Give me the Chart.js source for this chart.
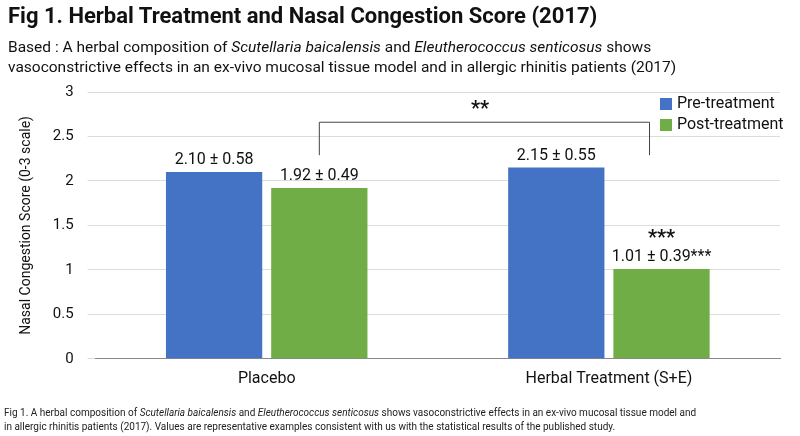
<!DOCTYPE html>
<html><head><meta charset="utf-8">
<script src="https://cdn.jsdelivr.net/npm/chart.js@4/dist/chart.umd.min.js"></script>
<style>
body{margin:0;width:800px;height:436px;overflow:hidden;background:#fff;font-family:Roboto,"Liberation Sans",sans-serif;color:#111}
#wrap{position:absolute;left:0;top:0;width:800px;height:436px}
.t{position:absolute;left:8px;top:3px;font-size:22px;font-weight:bold}
.s{position:absolute;left:8px;top:37px;font-size:15.5px;line-height:20px}
.c{position:absolute;left:4px;top:406px;font-size:10px;line-height:14px;color:#222}
</style></head><body>
<div id="wrap"><canvas id="ch" width="800" height="436"></canvas></div>
<div class="t">Fig 1. Herbal Treatment and Nasal Congestion Score (2017)</div>
<div class="s">Based : A herbal composition of <i>Scutellaria baicalensis</i> and <i>Eleutherococcus senticosus</i> shows<br>vasoconstrictive effects in an ex-vivo mucosal tissue model and in allergic rhinitis patients (2017)</div>
<div class="c">Fig 1. A herbal composition of <i>Scutellaria baicalensis</i> and <i>Eleutherococcus senticosus</i> shows vasoconstrictive effects in an ex-vivo mucosal tissue model and<br>in allergic rhinitis patients (2017). Values are representative examples consistent with us with the statistical results of the published study.</div>
<script>
const categories = ["Placebo", "Herbal Treatment (S+E)"];
const preValues = [2.10, 2.15];
const postValues = [1.92, 1.01];
const preSD = [0.58, 0.55];
const postSD = [0.49, 0.39];
const seriesNames = ["Pre-treatment", "Post-treatment"];
const BLUE = "#4472c4", GREEN = "#70ad47";
const FONT = "Roboto, 'Liberation Sans', sans-serif";

const overlay = {
  id: "overlay",
  afterDatasetsDraw(chart) {
    const ctx = chart.ctx, y = chart.scales.y, area = chart.chartArea;
    ctx.save();
    ctx.fillStyle = "#111";
    ctx.textAlign = "center";
    ctx.textBaseline = "bottom";
    ctx.font = "16px " + FONT;
    const sds = [preSD, postSD];
    chart.data.datasets.forEach((ds, di) => {
      chart.getDatasetMeta(di).data.forEach((bar, i) => {
        let txt = ds.data[i].toFixed(2) + " ± " + sds[di][i].toFixed(2);
        if (di === 1 && i === 1) txt += "***";
        ctx.fillText(txt, bar.x, bar.y - 4);
      });
    });
    const hb = chart.getDatasetMeta(1).data[1];
    ctx.font = "bold 20px " + FONT;
    ctx.fillText("***", hb.x, hb.y - 20);
    // bracket
    const ax = chart.getDatasetMeta(1).data[0].x, bx = hb.x - 12;
    const top = y.getPixelForValue(2.66), foot = y.getPixelForValue(2.29);
    ctx.strokeStyle = "#444"; ctx.lineWidth = 1;
    ctx.beginPath();
    ctx.moveTo(ax, foot); ctx.lineTo(ax, top);
    ctx.lineTo(bx, top); ctx.lineTo(bx, foot);
    ctx.stroke();
    ctx.fillText("**", 480, top - 2);
    // legend
    ctx.font = "16px " + FONT; ctx.textAlign = "left"; ctx.textBaseline = "middle";
    [BLUE, GREEN].forEach((c, k) => {
      const ly = area.top + 12 + k * 21;
      ctx.fillStyle = c; ctx.fillRect(660, ly - 6, 12, 12);
      ctx.fillStyle = "#111"; ctx.fillText(seriesNames[k], 677, ly);
    });
    ctx.restore();
  }
};

new Chart(document.getElementById("ch"), {
  type: "bar",
  data: {
    labels: categories,
    datasets: [
      { label: seriesNames[0], data: preValues, backgroundColor: BLUE },
      { label: seriesNames[1], data: postValues, backgroundColor: GREEN }
    ]
  },
  options: {
    responsive: false, animation: false,
    layout: { padding: { top: 92, right: 20, bottom: 44, left: 14 } },
    categoryPercentage: 0.615, barPercentage: 0.915,
    plugins: { legend: { display: false }, tooltip: { enabled: false } },
    scales: {
      x: { grid: { display: false }, border: { color: "#888" },
           ticks: { color: "#111", font: { family: FONT, size: 16 } } },
      y: { min: 0, max: 3,
           ticks: { stepSize: 0.5, padding: 14, color: "#111", font: { family: FONT, size: 15 },
                    callback: v => String(v) },
           grid: { color: "#dcdcdc" }, border: { display: false },
           title: { display: true, text: "Nasal Congestion Score (0-3 scale)", color: "#111", font: { family: FONT, size: 14 } } }
    }
  },
  plugins: [overlay]
});
</script></body></html>
